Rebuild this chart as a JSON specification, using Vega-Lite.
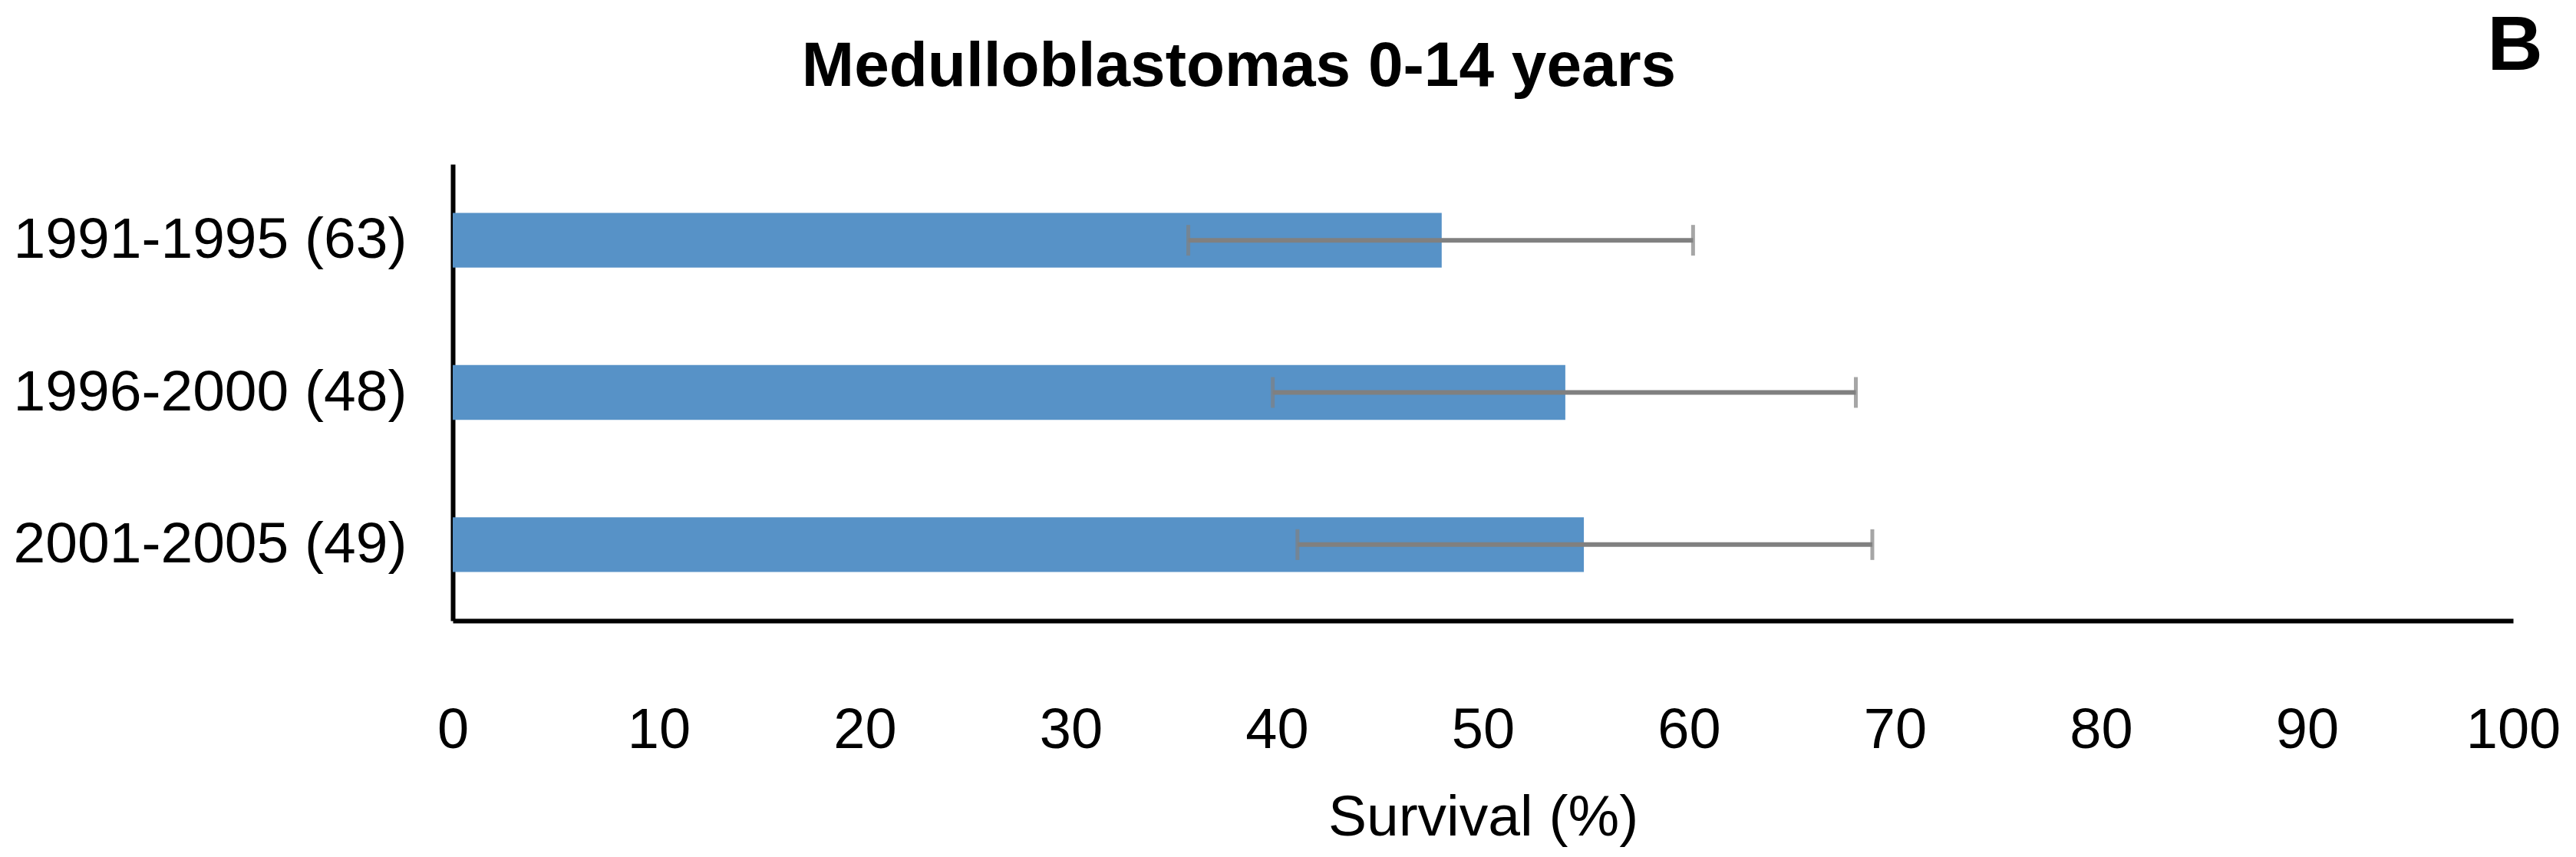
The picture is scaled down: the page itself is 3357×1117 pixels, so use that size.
{
  "$schema": "https://vega.github.io/schema/vega-lite/v6.json",
  "width": 2685,
  "height": 595,
  "autosize": {"type": "none"},
  "padding": {"left": 590, "top": 214, "right": 82, "bottom": 308},
  "background": "white",
  "config": {"font": "Liberation Sans", "view": {"stroke": null}},
  "title": {
    "text": "Medulloblastomas 0-14 years",
    "fontSize": 82,
    "fontWeight": "bold",
    "font": "Liberation Sans",
    "color": "black",
    "anchor": "middle",
    "frame": "group",
    "dx": -318,
    "baseline": "alphabetic",
    "offset": -184
  },
  "data": {
    "values": [
      {"period": "1991-1995 (63)", "survival": 48.0, "lo": 35.7, "hi": 60.2},
      {"period": "1996-2000 (48)", "survival": 54.0, "lo": 39.8, "hi": 68.1},
      {"period": "2001-2005 (49)", "survival": 54.9, "lo": 41.0, "hi": 68.9}
    ]
  },
  "encoding": {
    "y": {
      "field": "period",
      "type": "nominal",
      "sort": null,
      "scale": {"paddingInner": 0.64, "paddingOuter": 0.32},
      "axis": {
        "title": "B",
        "titleAngle": 0,
        "titleAlign": "center",
        "titleBaseline": "alphabetic",
        "titleX": 2687,
        "titleY": -124,
        "titleFontSize": 100,
        "titleFontWeight": "bold",
        "titleColor": "black",
        "titleFont": "Liberation Sans",
        "labelFontSize": 75,
        "labelColor": "black",
        "labelFont": "Liberation Sans",
        "labelPadding": 60,
        "labelLimit": 0,
        "ticks": false,
        "tickSize": 0,
        "domainColor": "black",
        "domainWidth": 6,
        "grid": false
      }
    }
  },
  "layer": [
    {
      "mark": {"type": "bar", "color": "#5792C7"},
      "encoding": {
        "x": {
          "field": "survival",
          "type": "quantitative",
          "scale": {"domain": [0, 100], "nice": false},
          "axis": {
            "title": "Survival (%)",
            "values": [0, 10, 20, 30, 40, 50, 60, 70, 80, 90, 100],
            "titleFontSize": 75,
            "titleFontWeight": "normal",
            "titleColor": "black",
            "titleFont": "Liberation Sans",
            "titlePadding": 40,
            "labelFontSize": 74,
            "labelColor": "black",
            "labelFont": "Liberation Sans",
            "labelPadding": 107,
            "labelFlush": false,
            "ticks": false,
            "tickSize": 0,
            "domainColor": "black",
            "domainWidth": 6,
            "grid": false
          }
        }
      }
    },
    {
      "mark": {"type": "rule", "color": "#808080", "strokeWidth": 6},
      "encoding": {
        "x": {"field": "lo", "type": "quantitative"},
        "x2": {"field": "hi"}
      }
    },
    {
      "mark": {"type": "tick", "color": "#808080", "thickness": 5, "size": 40},
      "encoding": {
        "x": {"field": "lo", "type": "quantitative"}
      }
    },
    {
      "mark": {"type": "tick", "color": "#808080", "thickness": 5, "size": 40},
      "encoding": {
        "x": {"field": "hi", "type": "quantitative"}
      }
    }
  ]
}
